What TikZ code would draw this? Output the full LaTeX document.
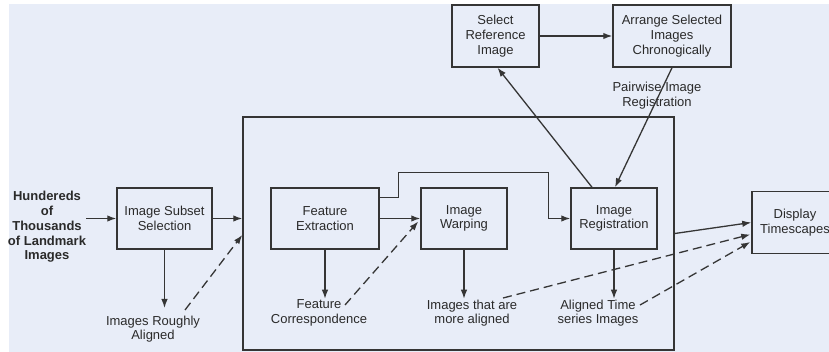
\documentclass[tikz,border=0pt]{standalone}
\usepackage{fontspec}
\setmainfont{Liberation Sans}
\usepackage{xcolor}
\usepackage{tikz}
\usetikzlibrary{positioning}
\usetikzlibrary{arrows,arrows.meta,shapes}
\usetikzlibrary{calc}
\definecolor{bgblue}{HTML}{E8EDF8}
\definecolor{linegray}{HTML}{353535}
\definecolor{textgray}{HTML}{2A2A2A}
\tikzstyle{stepbox}=[rectangle,draw=linegray,fill=bgblue,line width=1.5pt,align=center,inner sep=0pt,text=textgray,font=\fontsize{13}{14.7}\selectfont]
\tikzstyle{note}=[align=center,inner sep=0pt,text=textgray,font=\fontsize{13}{14.7}\selectfont]
\tikzstyle{edge} = [draw,line width=1.3pt,linegray,-{Latex[length=9pt,width=6.5pt]}]
\tikzstyle{dashededge} = [draw,line width=1.3pt,linegray,dash pattern=on 9pt off 5pt,-{Latex[length=9pt,width=6.5pt]}]

\begin{document}
\begin{tikzpicture}[x=1pt,y=-1pt]

  \useasboundingbox (0,0) rectangle (829,352);
  \fill[white] (0,0) rectangle (829,352);
  \fill[bgblue] (9,4) rectangle (829,352);

  % outer stage
  \node[stepbox,minimum width=431,minimum height=233] (stage) at (458.5,233.5) {};

  \foreach \x/\y/\w/\name/\label in {164.5/218.5/95/subset/{Image Subset\\Selection}, 325/218.5/108/feat/{Feature\\Extraction}, 464/218.5/86/warp/{Image\\Warping}, 614/218.5/86/reg/{Image\\Registration}}
          \node[stepbox,minimum width=\w,minimum height=61] (\name) at (\x,\y) {\label};

  \foreach \x/\y/\w/\name/\label in {495.5/36/87/selref/{Select\\Reference\\Image}, 672/36/118/arrange/{Arrange Selected\\Images\\Chronogically}, 795/222.5/86/disp/{Display\\Timescapes}}
          \node[stepbox,minimum width=\w,minimum height=62] (\name) at (\x,\y) {\label};

  % labels
  \node[note,font=\fontsize{13}{14.7}\selectfont\bfseries] (src) at (47,227) {Hundereds\\of\\Thousands\\of Landmark\\Images};
  \foreach \x/\y/\name/\label in {153/329/rough/{Images Roughly\\Aligned}, 319/313/corr/{Feature\\Correspondence}, 472/313/more/{Images that are\\more aligned}, 598/313/series/{Aligned Time\\series Images}, 657/95.5/pair/{Pairwise Image\\Registration}}
          \node[note] (\name) at (\x,\y) {\label};

  \coordinate (roughout) at (185,310);
  \coordinate (corrout) at (345,305);
  \coordinate (moreout) at (503,298);
  \coordinate (seriesout) at (640,305);

  \path[edge] (src.east |- subset.west) -- (subset.west);
  \path[edge] (subset.east) -- (subset.east -| stage.west);
  \path[edge] (subset.south) -- (subset.south |- 0,308);
  \path[dashededge] (roughout) -- ($(stage.west)+(0,1.5)$);

  \foreach \source/ \dest in {feat.east/warp.west, selref.east/arrange.west, stage.east/disp.west}
         \path[edge] (\source) -- (\dest);

  \foreach \source in {feat, warp, reg}
         \path[edge] (\source.south) -- ($(\source.south)+(0,49)$);

  \path[edge] ($(feat.north east)+(0,10)$) -- ++(19,0) -- ++(0,-25) -| ($(reg.west)+(-22,0)$) -- (reg.west);

  \path[edge] ($(reg.north)+(-22,0)$) -- ($(selref.south)+(2,0)$);
  \path[edge] (arrange.south) -- ($(reg.north)+(1,0)$);

  \path[dashededge] (corrout) -- ($(warp.west)+(-2,3)$);
  \path[dashededge] (moreout) -- ($(disp.west)+(-1,12)$);
  \path[dashededge] (seriesout) -- ($(disp.west)+(-1,19.5)$);

\end{tikzpicture}
\end{document}
